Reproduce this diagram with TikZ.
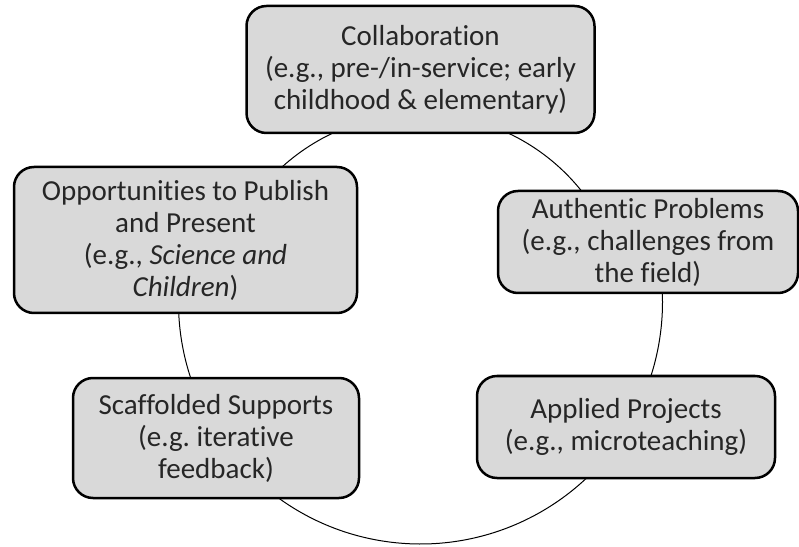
\documentclass[tikz,border=0pt]{standalone}
\usepackage{fontspec}
\setmainfont{Carlito}[Ligatures=NoCommon]
\usepackage{tikz}
\frenchspacing

\begin{document}
\begin{tikzpicture}[%
            x=1pt, y=1pt,
            ring/.style={draw=black, line width=1pt},
            box/.style={draw=black, line width=2.5pt, fill=black!15,
                rounded corners=20pt, align=center, inner sep=0pt,
                text=black!85, font=\fontsize{29}{32}\selectfont}
            ]
            \useasboundingbox (0,0) rectangle (799,546);
            \coordinate (lowc) at (420.5,244);
            \coordinate (upc) at (420.5,226.5);

            % ring behind the boxes
            \draw[ring] ([shift={(175:242pt)}]lowc) arc[start angle=175, end angle=365, radius=242pt]
                -- ([shift={(38:206pt)}]upc) arc[start angle=38, end angle=142, radius=206pt] -- cycle;

            \node[box, minimum width=348pt, minimum height=127pt] (collab) at ([shift={(0pt,232.5pt)}]lowc)
                {Collaboration\\(e.g., pre-/in-service; early\\childhood \& elementary)};
            \node[box, minimum width=300pt, minimum height=102pt] (authentic) at ([shift={(227.5pt,60pt)}]lowc)
                {Authentic Problems\\(e.g., challenges from\\the field)};
            \node[box, minimum width=298pt, minimum height=102pt] (applied) at ([shift={(205.5pt,-125pt)}]lowc)
                {Applied Projects\\(e.g., microteaching)};
            \node[box, minimum width=286pt, minimum height=120pt] (scaffold) at ([shift={(-204.5pt,-136pt)}]lowc)
                {Scaffolded Supports\\(e.g. iterative\\feedback)};
            \node[box, minimum width=343pt, minimum height=146pt] (publish) at ([shift={(-235pt,62pt)}]lowc)
                {Opportunities to Publish\\and Present\\(e.g., \textit{Science and}\\\textit{Children})};

        \end{tikzpicture}
\end{document}
